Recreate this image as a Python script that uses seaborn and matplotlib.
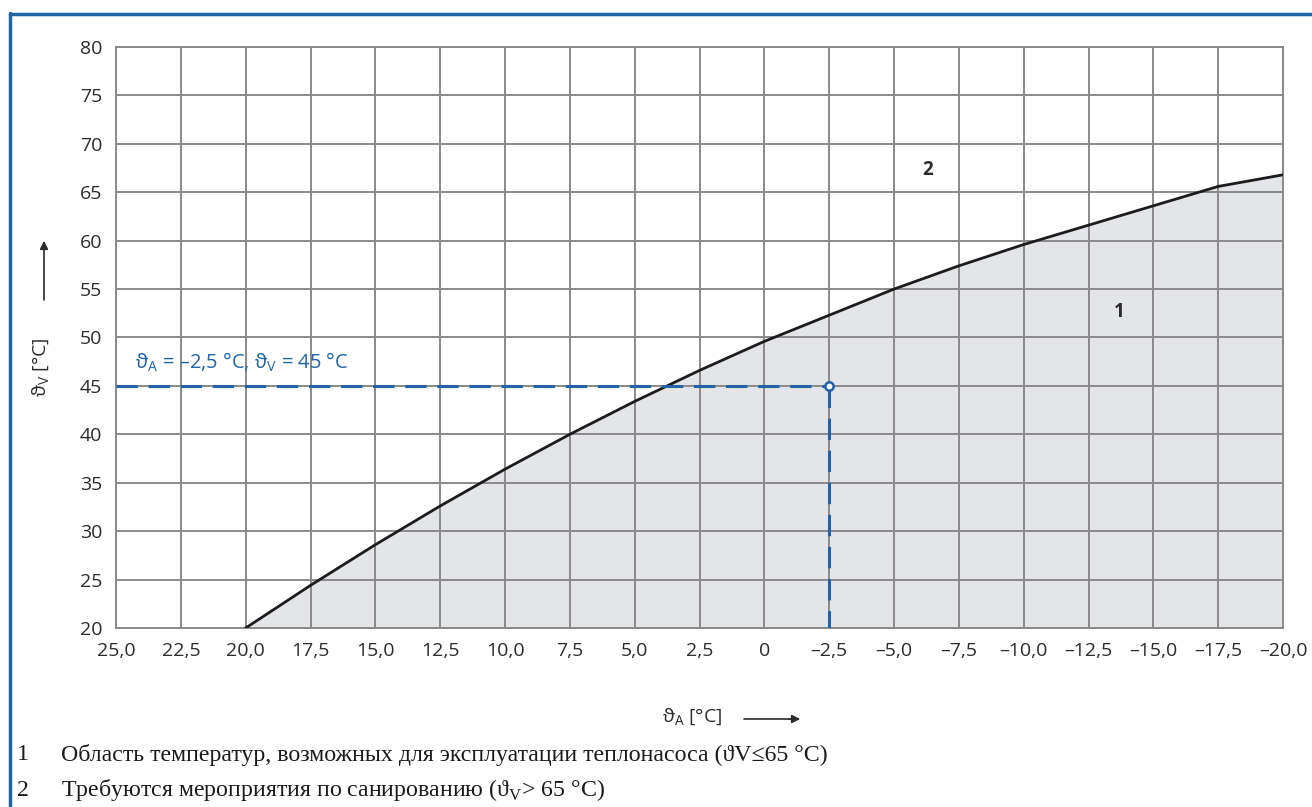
import matplotlib
matplotlib.use("Agg")
import matplotlib.pyplot as plt
import seaborn as sns
import pandas as pd
from matplotlib.lines import Line2D

# Outdoor temperature (°C) and maximum flow temperature (°C) of the heat pump
outdoor_temp = [20.0, 17.5, 15.0, 12.5, 10.0, 7.5, 5.0, 2.5, 0.0, -2.5,
                -5.0, -7.5, -10.0, -12.5, -15.0, -17.5, -20.0]
flow_temp = [20.0, 24.4, 28.6, 32.6, 36.4, 40.0, 43.4, 46.6, 49.6, 52.3,
             55.0, 57.4, 59.6, 61.6, 63.6, 65.6, 66.8]

# Example operating point
point_outdoor = -2.5
point_flow = 45

x_ticks = [25.0, 22.5, 20.0, 17.5, 15.0, 12.5, 10.0, 7.5, 5.0, 2.5, 0.0,
           -2.5, -5.0, -7.5, -10.0, -12.5, -15.0, -17.5, -20.0]
x_tick_labels = ["25,0", "22,5", "20,0", "17,5", "15,0", "12,5", "10,0", "7,5",
                 "5,0", "2,5", "0", "–2,5", "–5,0", "–7,5", "–10,0", "–12,5",
                 "–15,0", "–17,5", "–20,0"]
y_ticks = [20, 25, 30, 35, 40, 45, 50, 55, 60, 65, 70, 75, 80]

footnotes = [
    ("1", "Область температур, возможных для эксплуатации теплонасоса (ϑV≤65 °C)"),
    ("2", r"Требуются мероприятия по санированию (ϑ$_\mathregular{V}$> 65 °C)"),
]

sns.set_theme(style="white")
plt.rcParams["font.family"] = ["Open Sans", "DejaVu Sans"]

BLUE = "#2163a6"
GRID = "#8a8a8a"
TEXT = "#2b2b2b"
SANS = ["Open Sans", "DejaVu Sans"]
SERIF = ["Liberation Serif", "DejaVu Serif"]

df = pd.DataFrame({"outdoor": outdoor_temp, "flow": flow_temp})

fig = plt.figure(figsize=(13.12, 8.07), dpi=100, facecolor="white")
ax = fig.add_axes([116 / 1312, 1 - 628 / 807, (1283 - 116) / 1312, (628 - 47) / 807])

# Permitted operating area under the limit curve
ax.fill_between(df["outdoor"], 20, df["flow"], color="#e4e5e8", zorder=1, linewidth=0)
sns.lineplot(data=df, x="outdoor", y="flow", ax=ax, color="#1c1c1c", linewidth=2.0,
             zorder=4, sort=False)

ax.set_xlim(25, -20)
ax.set_ylim(20, 80)
ax.set_xticks(x_ticks)
ax.set_xticklabels(x_tick_labels)
ax.set_yticks(y_ticks)
ax.grid(True, color=GRID, linewidth=1.4, zorder=2)
ax.set_axisbelow(False)
for sp in ax.spines.values():
    sp.set_color(GRID)
    sp.set_linewidth(1.4)
ax.tick_params(axis="both", length=0, pad=10, labelsize=14, labelcolor=TEXT)
ax.set_xlabel("")
ax.set_ylabel("")

# Example operating point with guide lines
ax.plot([25, point_outdoor], [point_flow, point_flow], color=BLUE, linewidth=2.2,
        dashes=(7, 3.5), zorder=5)
ax.plot([point_outdoor, point_outdoor], [point_flow, 20], color=BLUE, linewidth=2.2,
        dashes=(7, 3.5), zorder=5)
ax.plot([point_outdoor], [point_flow], marker="o", markersize=6, markerfacecolor="white",
        markeredgecolor=BLUE, markeredgewidth=1.8, zorder=6, clip_on=False)
ax.text(24.25, 47.4, r"ϑ$_\mathregular{A}$ = –2,5 °C, ϑ$_\mathregular{V}$ = 45 °C",
        color=BLUE, fontsize=14.5, family=SANS, va="center", ha="left", zorder=7)

# Area numbers
ax.text(-6.3, 67.3, "2", fontsize=13.5, fontweight="bold", color=TEXT, ha="center", va="center")
ax.text(-13.7, 52.6, "1", fontsize=13.5, fontweight="bold", color=TEXT, ha="center", va="center")

# Axis titles with direction arrows
fig.text(41 / 1312, 1 - 367 / 807, r"ϑ$_\mathregular{V}$ [°C]", rotation=90,
         fontsize=14, color=TEXT, family=SANS, ha="center", va="center")
fig.add_artist(Line2D([44 / 1312, 44 / 1312], [1 - 300 / 807, 1 - 248 / 807],
                      color=TEXT, linewidth=1.2))
ax.annotate("", xy=(44 / 1312, 1 - 238 / 807), xytext=(44 / 1312, 1 - 252 / 807),
            xycoords="figure fraction",
            arrowprops=dict(arrowstyle="-|>", color=TEXT, lw=1.2, mutation_scale=12))

fig.text(692 / 1312, 1 - 717 / 807, r"ϑ$_\mathregular{A}$ [°C]",
         fontsize=14, color=TEXT, family=SANS, ha="center", va="center")
fig.add_artist(Line2D([744 / 1312, 790 / 1312], [1 - 719 / 807, 1 - 719 / 807],
                      color=TEXT, linewidth=1.2))
ax.annotate("", xy=(803 / 1312, 1 - 719 / 807), xytext=(786 / 1312, 1 - 719 / 807),
            xycoords="figure fraction",
            arrowprops=dict(arrowstyle="-|>", color=TEXT, lw=1.2, mutation_scale=12))

# Footnotes
for i, (num, txt) in enumerate(footnotes):
    y = 1 - (755 + 35 * i) / 807
    fig.text(17 / 1312, y, num, fontsize=17.2, family=SERIF, color="#1a1a1a", va="center")
    fig.text(61 / 1312, y, txt, fontsize=17.2, family=SERIF, color="#1a1a1a", va="center")

# Frame lines at top and left edge
fig.add_artist(Line2D([9.5 / 1312, 1.0], [1 - 13.5 / 807, 1 - 13.5 / 807],
                      color="#1f66a8", linewidth=2.5))
fig.add_artist(Line2D([10 / 1312, 10 / 1312], [0, 1 - 13 / 807],
                      color="#1f66a8", linewidth=2.5))

fig.savefig("out.png", dpi=100, facecolor="white")
